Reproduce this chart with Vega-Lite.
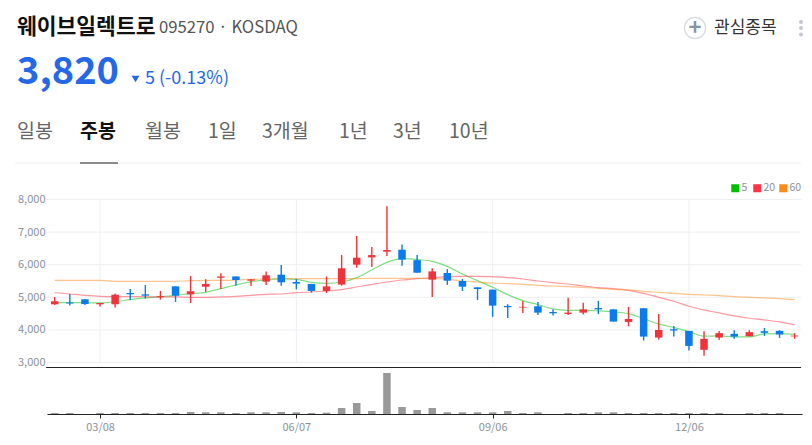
{
"$schema": "https://vega.github.io/schema/vega-lite/v6.json",
"width": 812,
"height": 445,
"padding": 0,
"autosize": {"type": "fit", "contains": "padding"},
"background": "#ffffff",
"config": {"view": {"stroke": null}, "font": "Noto Sans CJK KR"},
"datasets": {
"weeks": [
{"date":"2021-02-15","open":4786,"high":5010,"low":4765,"close":4878,"volume":120000,"5":4847,"20":5143,"60":5520},
{"date":"2021-02-22","open":4840,"high":5100,"low":4745,"close":4810,"volume":120000,"5":4837,"20":5102,"60":5520},
{"date":"2021-03-01","open":4940,"high":4940,"low":4765,"close":4795,"volume":0,"5":4837,"20":5061,"60":5520},
{"date":"2021-03-08","open":4786,"high":4825,"low":4715,"close":4825,"volume":120000,"5":4827,"20":5031,"60":5520},
{"date":"2021-03-15","open":4786,"high":5120,"low":4685,"close":5080,"volume":120000,"5":4867,"20":5020,"60":5490},
{"date":"2021-03-22","open":5130,"high":5255,"low":4920,"close":5090,"volume":120000,"5":4929,"20":5020,"60":5490},
{"date":"2021-03-29","open":5090,"high":5375,"low":4960,"close":5050,"volume":120000,"5":4980,"20":5020,"60":5490},
{"date":"2021-04-05","open":5000,"high":5195,"low":4930,"close":5030,"volume":120000,"5":5020,"20":5010,"60":5490},
{"date":"2021-04-12","open":5335,"high":5335,"low":4860,"close":5050,"volume":120000,"5":5061,"20":5010,"60":5490},
{"date":"2021-04-19","open":5090,"high":5650,"low":4825,"close":5185,"volume":240000,"5":5112,"20":5000,"60":5510},
{"date":"2021-04-26","open":5325,"high":5550,"low":5165,"close":5410,"volume":200000,"5":5153,"20":5000,"60":5520},
{"date":"2021-05-03","open":5600,"high":5735,"low":5255,"close":5640,"volume":200000,"5":5265,"20":5010,"60":5520},
{"date":"2021-05-10","open":5640,"high":5640,"low":5355,"close":5530,"volume":120000,"5":5378,"20":5031,"60":5531},
{"date":"2021-05-17","open":5510,"high":5560,"low":5345,"close":5550,"volume":200000,"5":5480,"20":5061,"60":5551},
{"date":"2021-05-24","open":5480,"high":5795,"low":5380,"close":5675,"volume":200000,"5":5531,"20":5092,"60":5561},
{"date":"2021-05-31","open":5695,"high":5990,"low":5355,"close":5460,"volume":240000,"5":5571,"20":5102,"60":5561},
{"date":"2021-06-07","open":5470,"high":5560,"low":5245,"close":5420,"volume":200000,"5":5551,"20":5143,"60":5571},
{"date":"2021-06-14","open":5410,"high":5410,"low":5145,"close":5195,"volume":120000,"5":5459,"20":5163,"60":5571},
{"date":"2021-06-21","open":5195,"high":5640,"low":5130,"close":5335,"volume":160000,"5":5429,"20":5194,"60":5571},
{"date":"2021-06-28","open":5390,"high":6295,"low":5355,"close":5890,"volume":720000,"5":5469,"20":5235,"60":5571},
{"date":"2021-07-05","open":6000,"high":6880,"low":5910,"close":6215,"volume":1320000,"5":5602,"20":5316,"60":5571},
{"date":"2021-07-12","open":6225,"high":6540,"low":5930,"close":6295,"volume":360000,"5":5837,"20":5398,"60":5582},
{"date":"2021-07-19","open":6400,"high":7795,"low":6265,"close":6450,"volume":4920000,"5":6071,"20":5469,"60":5582},
{"date":"2021-07-26","open":6460,"high":6620,"low":5970,"close":6155,"volume":840000,"5":6184,"20":5531,"60":5582},
{"date":"2021-08-02","open":6140,"high":6295,"low":5755,"close":5755,"volume":480000,"5":6163,"20":5571,"60":5582},
{"date":"2021-08-09","open":5540,"high":5890,"low":5010,"close":5795,"volume":720000,"5":6102,"20":5602,"60":5582},
{"date":"2021-08-16","open":5745,"high":5865,"low":5380,"close":5510,"volume":200000,"5":5949,"20":5633,"60":5551},
{"date":"2021-08-23","open":5500,"high":5560,"low":5195,"close":5325,"volume":200000,"5":5714,"20":5643,"60":5500},
{"date":"2021-08-30","open":5305,"high":5305,"low":4920,"close":5255,"volume":200000,"5":5510,"20":5643,"60":5469},
{"date":"2021-09-06","open":5235,"high":5235,"low":4400,"close":4745,"volume":200000,"5":5306,"20":5633,"60":5439},
{"date":"2021-09-13","open":4735,"high":4785,"low":4365,"close":4695,"volume":360000,"5":5082,"20":5602,"60":5418},
{"date":"2021-09-20","open":4685,"high":4890,"low":4520,"close":4705,"volume":120000,"5":4898,"20":5561,"60":5398},
{"date":"2021-09-27","open":4725,"high":4855,"low":4460,"close":4530,"volume":200000,"5":4776,"20":5500,"60":5367},
{"date":"2021-10-04","open":4550,"high":4630,"low":4440,"close":4510,"volume":0,"5":4643,"20":5449,"60":5347},
{"date":"2021-10-11","open":4490,"high":4990,"low":4460,"close":4530,"volume":120000,"5":4602,"20":5408,"60":5327},
{"date":"2021-10-18","open":4530,"high":4835,"low":4470,"close":4630,"volume":120000,"5":4602,"20":5347,"60":5306},
{"date":"2021-10-25","open":4670,"high":4890,"low":4490,"close":4630,"volume":200000,"5":4582,"20":5296,"60":5276},
{"date":"2021-11-01","open":4630,"high":4630,"low":4255,"close":4255,"volume":200000,"5":4551,"20":5265,"60":5245},
{"date":"2021-11-08","open":4245,"high":4705,"low":4110,"close":4335,"volume":120000,"5":4500,"20":5214,"60":5225},
{"date":"2021-11-15","open":4665,"high":4665,"low":3675,"close":3795,"volume":120000,"5":4347,"20":5122,"60":5184},
{"date":"2021-11-22","open":3765,"high":4490,"low":3705,"close":4000,"volume":120000,"5":4184,"20":5000,"60":5153},
{"date":"2021-11-29","open":4020,"high":4120,"low":3795,"close":3980,"volume":120000,"5":4071,"20":4878,"60":5122},
{"date":"2021-12-06","open":3970,"high":3970,"low":3365,"close":3510,"volume":120000,"5":3949,"20":4724,"60":5092},
{"date":"2021-12-13","open":3390,"high":3960,"low":3205,"close":3725,"volume":120000,"5":3806,"20":4612,"60":5071},
{"date":"2021-12-20","open":3765,"high":3970,"low":3695,"close":3900,"volume":120000,"5":3816,"20":4520,"60":5051},
{"date":"2021-12-27","open":3880,"high":3990,"low":3725,"close":3795,"volume":0,"5":3786,"20":4429,"60":5020},
{"date":"2022-01-03","open":3805,"high":3990,"low":3805,"close":3930,"volume":120000,"5":3786,"20":4357,"60":5000},
{"date":"2022-01-10","open":3960,"high":4060,"low":3815,"close":3910,"volume":120000,"5":3878,"20":4306,"60":4980},
{"date":"2022-01-17","open":3970,"high":3990,"low":3755,"close":3860,"volume":120000,"5":3888,"20":4245,"60":4959},
{"date":"2022-01-24","open":3800,"high":3900,"low":3725,"close":3825,"volume":0,"5":3867,"20":4153,"60":4929}
],
"levels": [
{"level":3000,"from":"2021-02-11","to":"2022-01-27"},
{"level":4000,"from":"2021-02-11","to":"2022-01-27"},
{"level":5000,"from":"2021-02-11","to":"2022-01-27"},
{"level":6000,"from":"2021-02-11","to":"2022-01-27"},
{"level":7000,"from":"2021-02-11","to":"2022-01-27"},
{"level":8000,"from":"2021-02-11","to":"2022-01-27"}
],
"quarters": [
{"date":"2021-03-08","top":8000,"bottom":3000},
{"date":"2021-06-07","top":8000,"bottom":3000},
{"date":"2021-09-06","top":8000,"bottom":3000},
{"date":"2021-12-06","top":8000,"bottom":3000}
],
"header": [
{"label":"웨이브일렉트로","kind":"name","slot":1,"row":1},
{"label":"095270 · KOSDAQ","kind":"code","slot":6,"row":1},
{"label":"3,820","kind":"price","slot":1,"row":3},
{"label":"▾","kind":"arrow","slot":4,"row":4},
{"label":"5 (-0.13%)","kind":"change","slot":5,"row":4},
{"label":"일봉","kind":"tab","slot":1,"row":5},
{"label":"주봉","kind":"active","slot":2,"row":5},
{"label":"월봉","kind":"tab","slot":5,"row":5},
{"label":"1일","kind":"tab","slot":7,"row":5},
{"label":"3개월","kind":"tab","slot":8,"row":5},
{"label":"1년","kind":"tab","slot":9,"row":5},
{"label":"3년","kind":"tab","slot":10,"row":5},
{"label":"10년","kind":"tab","slot":11,"row":5},
{"label":"관심종목","kind":"watch","slot":13,"row":1},
{"label":"+","kind":"plus","slot":12,"row":1},
{"label":"","kind":"ring","slot":12,"row":1},
{"label":"","kind":"dot","slot":14,"row":0},
{"label":"","kind":"dot","slot":14,"row":1},
{"label":"","kind":"dot","slot":14,"row":2},
{"label":"","kind":"line","slot":0,"end":14,"row":6},
{"label":"","kind":"under","slot":2,"end":3,"row":6}
]
},
"layer": [
{
"data": {"name": "header"},
"encoding": {
"x": {"field":"slot","type":"quantitative","axis":null,"scale":{"domain":[0,1,2,3,4,5,6,7,8,9,10,11,12,13,14],"range":[15,17,80,118,135.5,145,159,208,262,339,393,449,695,714,801],"nice":false,"zero":false}},
"y": {"field":"row","type":"quantitative","axis":null,"scale":{"domain":[0,1,2,3,4,5,6],"range":[22,28,34.5,72.5,79,132,163],"nice":false,"zero":false}},
"text": {"field":"label"}
},
"layer": [
{"transform":[{"filter":"datum.kind == 'line'"}],"mark":{"type":"rule","stroke":"#eef0f3","strokeWidth":1},"encoding":{"x2":{"field":"end"}}},
{"transform":[{"filter":"datum.kind == 'under'"}],"mark":{"type":"rule","stroke":"#222222","strokeWidth":1},"encoding":{"x2":{"field":"end"}}},
{"transform":[{"filter":"datum.kind == 'ring'"}],"mark":{"type":"point","shape":"circle","size":452,"stroke":"#d5d9e0","strokeWidth":1.2,"opacity":1,"filled":false}},
{"transform":[{"filter":"datum.kind == 'dot'"}],"mark":{"type":"point","shape":"circle","size":16,"fill":"#c4c8cf","filled":true,"opacity":1}},
{"transform":[{"filter":"datum.kind == 'name'"}],"mark":{"type":"text","align":"left","baseline":"middle","fontSize":21.5,"fontWeight":"bold","fill":"#111111","font":"Noto Sans CJK KR"}},
{"transform":[{"filter":"datum.kind == 'code'"}],"mark":{"type":"text","align":"left","baseline":"middle","fontSize":16.7,"fill":"#555555","font":"Noto Sans CJK KR"}},
{"transform":[{"filter":"datum.kind == 'price'"}],"mark":{"type":"text","align":"left","baseline":"middle","fontSize":38,"fontWeight":"bold","fill":"#2468e8","font":"Noto Sans CJK KR"}},
{"transform":[{"filter":"datum.kind == 'arrow'"}],"mark":{"type":"point","shape":"triangle-down","size":60,"fill":"#2468e8","filled":true,"opacity":1}},
{"transform":[{"filter":"datum.kind == 'change'"}],"mark":{"type":"text","align":"left","baseline":"middle","fontSize":18,"fill":"#2468e8","font":"Noto Sans CJK KR"}},
{"transform":[{"filter":"datum.kind == 'tab'"}],"mark":{"type":"text","align":"left","baseline":"middle","fontSize":19.5,"fill":"#666666","font":"Noto Sans CJK KR"}},
{"transform":[{"filter":"datum.kind == 'active'"}],"mark":{"type":"text","align":"left","baseline":"middle","fontSize":19.5,"fontWeight":"bold","fill":"#111111","font":"Noto Sans CJK KR"}},
{"transform":[{"filter":"datum.kind == 'watch'"}],"mark":{"type":"text","align":"left","baseline":"middle","fontSize":17,"fill":"#333333","font":"Noto Sans CJK KR"}},
{"transform":[{"filter":"datum.kind == 'plus'"}],"mark":{"type":"text","align":"center","baseline":"middle","fontSize":22,"fontWeight":"bold","fill":"#8a93a0","font":"Noto Sans CJK KR"}}
]
},
{
"encoding": {
"x": {"type":"temporal","axis":null,"scale":{"type":"utc","padding":0,"domain":[{"year":2021,"month":2,"date":11,"hours":10,"utc":true},{"year":2022,"month":1,"date":27,"hours":10,"utc":true}],"range":[47,802]}},
"y": {"type":"quantitative","scale":{"domain":[3000,8000],"range":[362.5,199.5],"nice":false,"zero":false},"axis":{"orient":"left","offset":-47,"title":null,"domain":false,"ticks":false,"grid":false,"values":[3000,4000,5000,6000,7000,8000],"labelExpr":"format(datum.value, ',')","labelFontSize":11,"labelColor":"#8b919b","labelPadding":2,"labelFont":"Noto Sans CJK KR"}}
},
"layer": [
{
"data": {"name":"levels"},
"mark": {"type":"rule","stroke":"#edeff2","strokeWidth":1},
"encoding": {
"x": {"field":"from"},
"x2": {"field":"to"},
"y": {"field":"level"}
}
},
{
"data": {"name":"quarters"},
"mark": {"type":"rule","stroke":"#edeff2","strokeWidth":1},
"encoding": {
"x": {"field":"date"},
"y": {"field":"top"},
"y2": {"field":"bottom"}
}
},
{
"data": {"name":"weeks"},
"transform": [{"fold":["5","20","60"],"as":["window","average"]}],
"mark": {"type":"line","interpolate":"monotone","strokeWidth":1.2,"opacity":0.5},
"encoding": {
"x": {"field":"date"},
"y": {"field":"average"},
"color": {"field":"window","type":"nominal","scale":{"domain":["5","20","60"],"range":["#00c000","#ff3344","#ff8a1a"]},
"legend":{"orient":"none","legendX":730,"legendY":183,"direction":"horizontal","columns":3,"title":null,"symbolType":"square","symbolSize":1,"symbolOpacity":1,"symbolStrokeWidth":7,"labelFontSize":10.5,"labelColor":"#8b919b","columnPadding":-8,"labelOffset":1,"gridAlign":"none","padding":0}}
}
},
{
"data": {"name":"weeks"},
"mark": {"type":"rule","strokeWidth":1.4},
"encoding": {
"x": {"field":"date"},
"y": {"field":"high"},
"y2": {"field":"low"},
"color": {"condition":{"test":"datum.close >= datum.open","value":"#f0323a"},"value":"#0a7aec"}
}
},
{
"data": {"name":"weeks"},
"mark": {"type":"bar","size":7.5},
"encoding": {
"x": {"field":"date"},
"y": {"field":"open"},
"y2": {"field":"close"},
"color": {"condition":{"test":"datum.close >= datum.open","value":"#f0323a"},"value":"#0a7aec"}
}
}
]
},
{
"encoding": {
"x": {"type":"temporal","scale":{"type":"utc","padding":0,"domain":[{"year":2021,"month":2,"date":11,"hours":10,"utc":true},{"year":2022,"month":1,"date":27,"hours":10,"utc":true}],"range":[47,802]},
"axis":{"orient":"bottom","offset":-31,"title":null,"grid":false,"format":"%m/%d","values":[{"year":2021,"month":3,"date":8,"utc":true},{"year":2021,"month":6,"date":7,"utc":true},{"year":2021,"month":9,"date":6,"utc":true},{"year":2021,"month":12,"date":6,"utc":true}],"domainColor":"#222222","domainWidth":1,"tickColor":"#222222","tickSize":4,"labelFontSize":11,"labelColor":"#8b919b","labelPadding":3,"labelFont":"Noto Sans CJK KR","labelFlush":false}},
"y": {"type":"quantitative","axis":null,"scale":{"domain":[0,5580000],"range":[414,367.5],"nice":false}}
},
"layer": [
{
"data": {"name":"weeks"},
"mark": {"type":"bar","size":7.5,"fill":"#999999"},
"encoding": {
"x": {"field":"date"},
"y": {"field":"volume"}
}
},
{
"data": {"values":[{"ceiling":5580000,"from":"2021-02-11","to":"2022-01-27"}]},
"mark": {"type":"rule","stroke":"#222222","strokeWidth":1},
"encoding": {
"x": {"field":"from"},
"x2": {"field":"to"},
"y": {"field":"ceiling"}
}
}
]
}
],
"resolve": {"scale": {"x":"independent","y":"independent"}}
}
